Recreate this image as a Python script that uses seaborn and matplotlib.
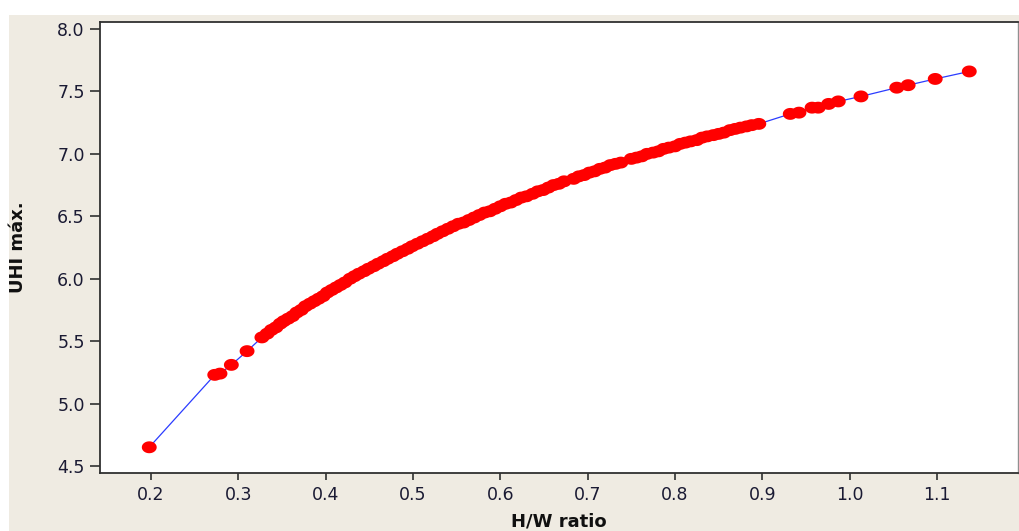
import seaborn as sns
import matplotlib.pyplot as plt
import pandas as pd
import numpy as np
from matplotlib.patches import Rectangle

# H/W ratio vs maximum UHI
hw_ratio = [0.198, 0.273, 0.279, 0.292, 0.310,
            0.327, 0.333, 0.338, 0.343, 0.348, 0.352, 0.357, 0.362, 0.367, 0.372,
            0.377, 0.382, 0.387, 0.392, 0.397, 0.402, 0.407, 0.412, 0.417, 0.422,
            0.428, 0.433, 0.438, 0.444, 0.449, 0.455, 0.460, 0.466, 0.471, 0.477,
            0.482, 0.488, 0.494, 0.499, 0.505, 0.511, 0.517, 0.523, 0.528, 0.534,
            0.540, 0.546, 0.552, 0.558, 0.564, 0.570, 0.576, 0.582, 0.588, 0.594,
            0.600, 0.606, 0.612, 0.618, 0.624, 0.630, 0.637, 0.643, 0.649, 0.655,
            0.661, 0.667, 0.673, 0.684, 0.690, 0.696, 0.702, 0.708, 0.714, 0.720,
            0.726, 0.732, 0.738, 0.750, 0.756, 0.762, 0.768, 0.775, 0.781, 0.787,
            0.793, 0.800, 0.806, 0.812, 0.818, 0.825, 0.831, 0.837, 0.844, 0.850,
            0.856, 0.863, 0.869, 0.875, 0.882, 0.888, 0.896,
            0.932, 0.942, 0.957, 0.964, 0.976, 0.987, 1.013, 1.054, 1.067, 1.098, 1.137]

uhi_max = [4.65, 5.23, 5.24, 5.31, 5.42,
           5.53, 5.56, 5.59, 5.61, 5.64, 5.66, 5.68, 5.70, 5.73, 5.75,
           5.78, 5.80, 5.82, 5.84, 5.86, 5.89, 5.91, 5.93, 5.95, 5.97,
           6.00, 6.02, 6.04, 6.06, 6.08, 6.10, 6.12, 6.14, 6.16, 6.18,
           6.20, 6.22, 6.24, 6.26, 6.28, 6.30, 6.32, 6.34, 6.36, 6.38,
           6.40, 6.42, 6.44, 6.45, 6.47, 6.49, 6.51, 6.53, 6.54, 6.56,
           6.58, 6.60, 6.61, 6.63, 6.65, 6.66, 6.68, 6.70, 6.71, 6.73,
           6.75, 6.76, 6.78, 6.80, 6.82, 6.83, 6.85, 6.86, 6.88, 6.89,
           6.91, 6.92, 6.93, 6.96, 6.97, 6.98, 7.00, 7.01, 7.02, 7.04,
           7.05, 7.06, 7.08, 7.09, 7.10, 7.11, 7.13, 7.14, 7.15, 7.16,
           7.17, 7.19, 7.20, 7.21, 7.22, 7.23, 7.24,
           7.32, 7.33, 7.37, 7.37, 7.40, 7.42, 7.46, 7.53, 7.55, 7.60, 7.66]

xticks = [0.2, 0.3, 0.4, 0.5, 0.6, 0.7, 0.8, 0.9, 1.0, 1.1]
yticks = [4.5, 5.0, 5.5, 6.0, 6.5, 7.0, 7.5, 8.0]

df = pd.DataFrame({'hw': hw_ratio, 'uhi': uhi_max})

sns.set_style('white')
plt.rcParams['font.family'] = ['DejaVu Sans']

# slightly wide oval dot, like the stretched markers in the original
t = np.linspace(0, 2 * np.pi, 40)
oval = np.column_stack([1.25 * np.cos(t), np.sin(t)])

fig = plt.figure(figsize=(10.19, 5.31), dpi=100, facecolor='white')
# beige panel behind the plot (white strip on the top and left edges)
fig.add_artist(Rectangle((9 / 1019, 0), 1, (531 - 15) / 531,
                         transform=fig.transFigure, facecolor='#efebe2',
                         edgecolor='none', zorder=-10))
ax = fig.add_axes([100 / 1019, 58 / 531, 918 / 1019, 451 / 531])
ax.set_facecolor('white')

sns.lineplot(data=df, x='hw', y='uhi', ax=ax, sort=False, color='#2b3cff',
             linewidth=0.9, zorder=2)
sns.scatterplot(data=df, x='hw', y='uhi', ax=ax, color='#ff0000', s=115,
                marker=oval, edgecolor='none', linewidth=0, zorder=3)

ax.set_xlim(0.1416, 1.1928)
ax.set_ylim(4.444, 8.056)
ax.set_xticks(xticks)
ax.set_yticks(yticks)
ax.set_xticklabels([f'{v:.1f}' for v in xticks])
ax.set_yticklabels([f'{v:.1f}' for v in yticks])

for side in ['left', 'bottom', 'top']:
    ax.spines[side].set_color('#303030')
    ax.spines[side].set_linewidth(1.3)
ax.spines['right'].set_color('#909090')
ax.spines['right'].set_linewidth(1.0)

ax.tick_params(axis='y', direction='out', length=7, width=1.2, color='#303030',
               labelsize=12.5, labelcolor='#1a1a33', pad=4, left=True)
ax.tick_params(axis='x', direction='out', length=5, width=1.2, color='#303030',
               labelsize=12.5, labelcolor='#1a1a33', pad=4, bottom=True)

ax.set_xlabel('H/W ratio', fontsize=13, fontweight='bold', color='#101010')
ax.set_ylabel('UHI máx.', fontsize=13, fontweight='bold', color='#101010')
ax.xaxis.set_label_coords(0.5, -0.108)
ax.xaxis.label.set_verticalalignment('center')
ax.yaxis.set_label_coords(-0.0893, 0.5)
ax.yaxis.label.set_verticalalignment('center')

fig.savefig('out.png', dpi=100, facecolor='white')
